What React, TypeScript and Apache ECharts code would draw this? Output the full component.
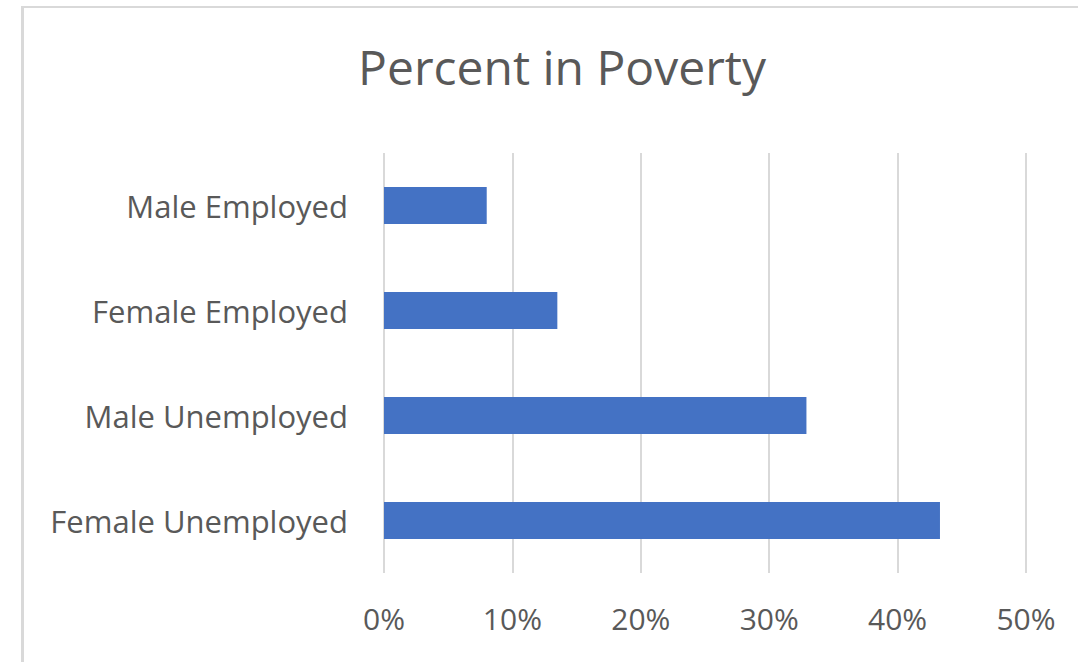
import React, { useEffect, useRef } from "react";
import * as echarts from "echarts";

const categories = ["Male Employed", "Female Employed", "Male Unemployed", "Female Unemployed"];
const percentInPoverty = [0.08, 0.135, 0.329, 0.433];
const xTicks = { min: 0, max: 0.5, interval: 0.1 };
const titleText = "Percent in Poverty";

export default function App() {
  const ref = useRef<HTMLDivElement>(null);
  useEffect(() => {
    if (!ref.current) return;
    const chart = echarts.init(ref.current, null, { renderer: "svg" });
    const font = "'Open Sans', sans-serif";
    chart.setOption({
      animation: false,
      backgroundColor: "#ffffff",
      title: {
        text: titleText,
        left: 557,
        top: 37,
        textAlign: "center",
        textStyle: { fontFamily: font, fontSize: 48, fontWeight: "normal", color: "#595959" },
      },
      graphic: [
        { type: "line", shape: { x1: 22.5, y1: 6, x2: 22.5, y2: 662 }, style: { stroke: "#d9d9d9", lineWidth: 3 } },
        { type: "line", shape: { x1: 21, y1: 7, x2: 1078, y2: 7 }, style: { stroke: "#d9d9d9", lineWidth: 2 } },
      ],
      grid: { left: 384, right: 52, top: 153, bottom: 89, containLabel: false },
      xAxis: {
        type: "value",
        min: xTicks.min,
        max: xTicks.max,
        interval: xTicks.interval,
        axisLine: { show: false },
        axisTick: { show: false },
        splitLine: { show: true, lineStyle: { color: "#d9d9d9", width: 2 } },
        axisLabel: {
          margin: 30,
          fontFamily: font,
          fontSize: 30,
          color: "#595959",
          formatter: (v: number) => Math.round(v * 100) + "%",
        },
      },
      yAxis: {
        type: "category",
        data: categories,
        inverse: true,
        axisLine: { show: false },
        axisTick: { show: false },
        splitLine: { show: false },
        axisLabel: { margin: 36, fontFamily: font, fontSize: 31, color: "#595959" },
      },
      series: [
        {
          type: "bar",
          data: percentInPoverty,
          barWidth: 37,
          itemStyle: { color: "#4472C4" },
        },
      ],
    });
    return () => chart.dispose();
  }, []);
  return (
    <div
      ref={ref}
      style={{ position: "fixed", left: 0, top: 0, width: 1078, height: 662 }}
    />
  );
}
